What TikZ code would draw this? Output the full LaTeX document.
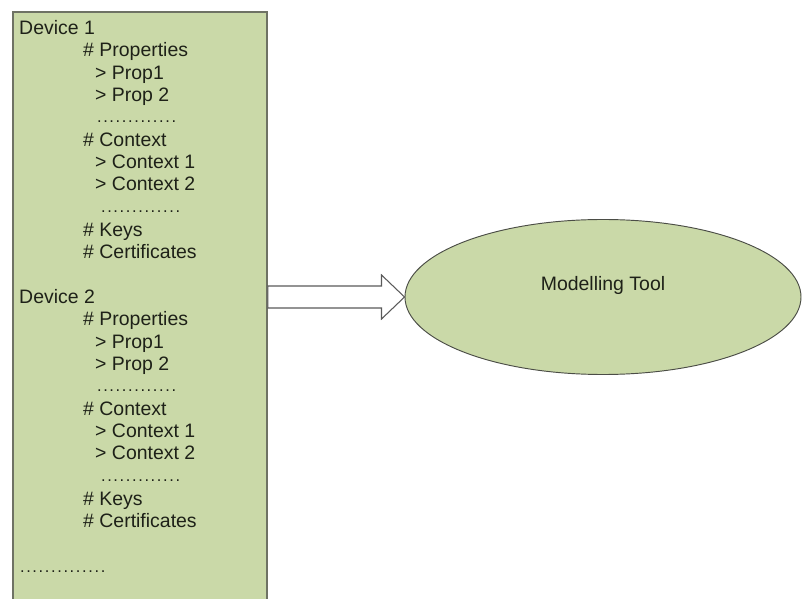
\documentclass[tikz,border=0pt]{standalone}
\usepackage{fontspec}
\setmainfont{Liberation Sans}
\usetikzlibrary{positioning,calc,shapes.geometric}
\definecolor{MTFill}{HTML}{CAD9A8}
\definecolor{MTEdge}{HTML}{6E7264}
\definecolor{MTInk}{HTML}{1E2118}
\definecolor{MTArrow}{HTML}{5A5A5A}
\newcommand\dotrow[1]{\makebox[#1pt][l]{\leaders\hbox to 5.3pt{\hss.\hss}\hfill}}
\tikzset{
  devbox/.style={draw=MTEdge,line width=1.6pt,fill=MTFill,inner sep=0pt},
  tool/.style={ellipse,draw=MTInk!80,line width=0.8pt,fill=MTFill,inner sep=0pt},
  entry/.style={anchor=base west,inner sep=0pt,text=MTInk,font=\fontsize{16.6}{19}\selectfont},
  dots/.style={entry,font=\fontsize{14}{17}\selectfont},
  blockarrow/.style={draw=MTArrow,line width=0.9pt,fill=white,line join=miter},
}

\begin{document}
\begin{tikzpicture}[x=0.03cm,y=-0.03cm]
    \clip (0,0) rectangle (802,599);
    \fill[white] (0,0) rectangle (802,599);

    \node[devbox,minimum width=7.62cm,minimum height=18.3cm] (dev) at (140,317) {};

    % one block of entries per device
    \foreach \d/\off in {1/0,2/269}{
      \node[entry] (d\d) at (19,35+\off) {Device \d};
      \node[entry] (pr\d) at (83,57+\off) {\# Properties};
      \node[entry] (pa\d) at (95,80+\off) {> Prop1};
      \node[entry] (pb\d) at (95,102+\off) {> Prop 2};
      \node[dots] (pd\d) at (96,123+\off) {\dotrow{74}};
      \node[entry] (cx\d) at (83,147+\off) {\# Context};
      \node[entry] (ca\d) at (95,169+\off) {> Context 1};
      \node[entry] (cb\d) at (95,191+\off) {> Context 2};
      \node[dots] (cd\d) at (100,213+\off) {\dotrow{74}};
      \node[entry] (ky\d) at (83,237+\off) {\# Keys};
      \node[entry] (ce\d) at (83,259+\off) {\# Certificates};
    }
    \node[dots] (more) at (19,573) {\dotrow{79}};

    \node[tool,minimum width=11.88cm,minimum height=4.65cm] (mt) at (603,297) {};
    \node[text=MTInk,font=\fontsize{16.6}{19}\selectfont] (mtl) at ($(mt)+(0,-12)$) {Modelling Tool};

    \draw[blockarrow] (mt.west) -- ++(-23,-22) -- ++(0,11)
      -- ($(dev.east|-mt.west)+(0,-11)$) -- ++(0,22)
      -- ($(mt.west)+(-23,11)$) -- ++(0,11) -- cycle;
  \end{tikzpicture}
\end{document}
